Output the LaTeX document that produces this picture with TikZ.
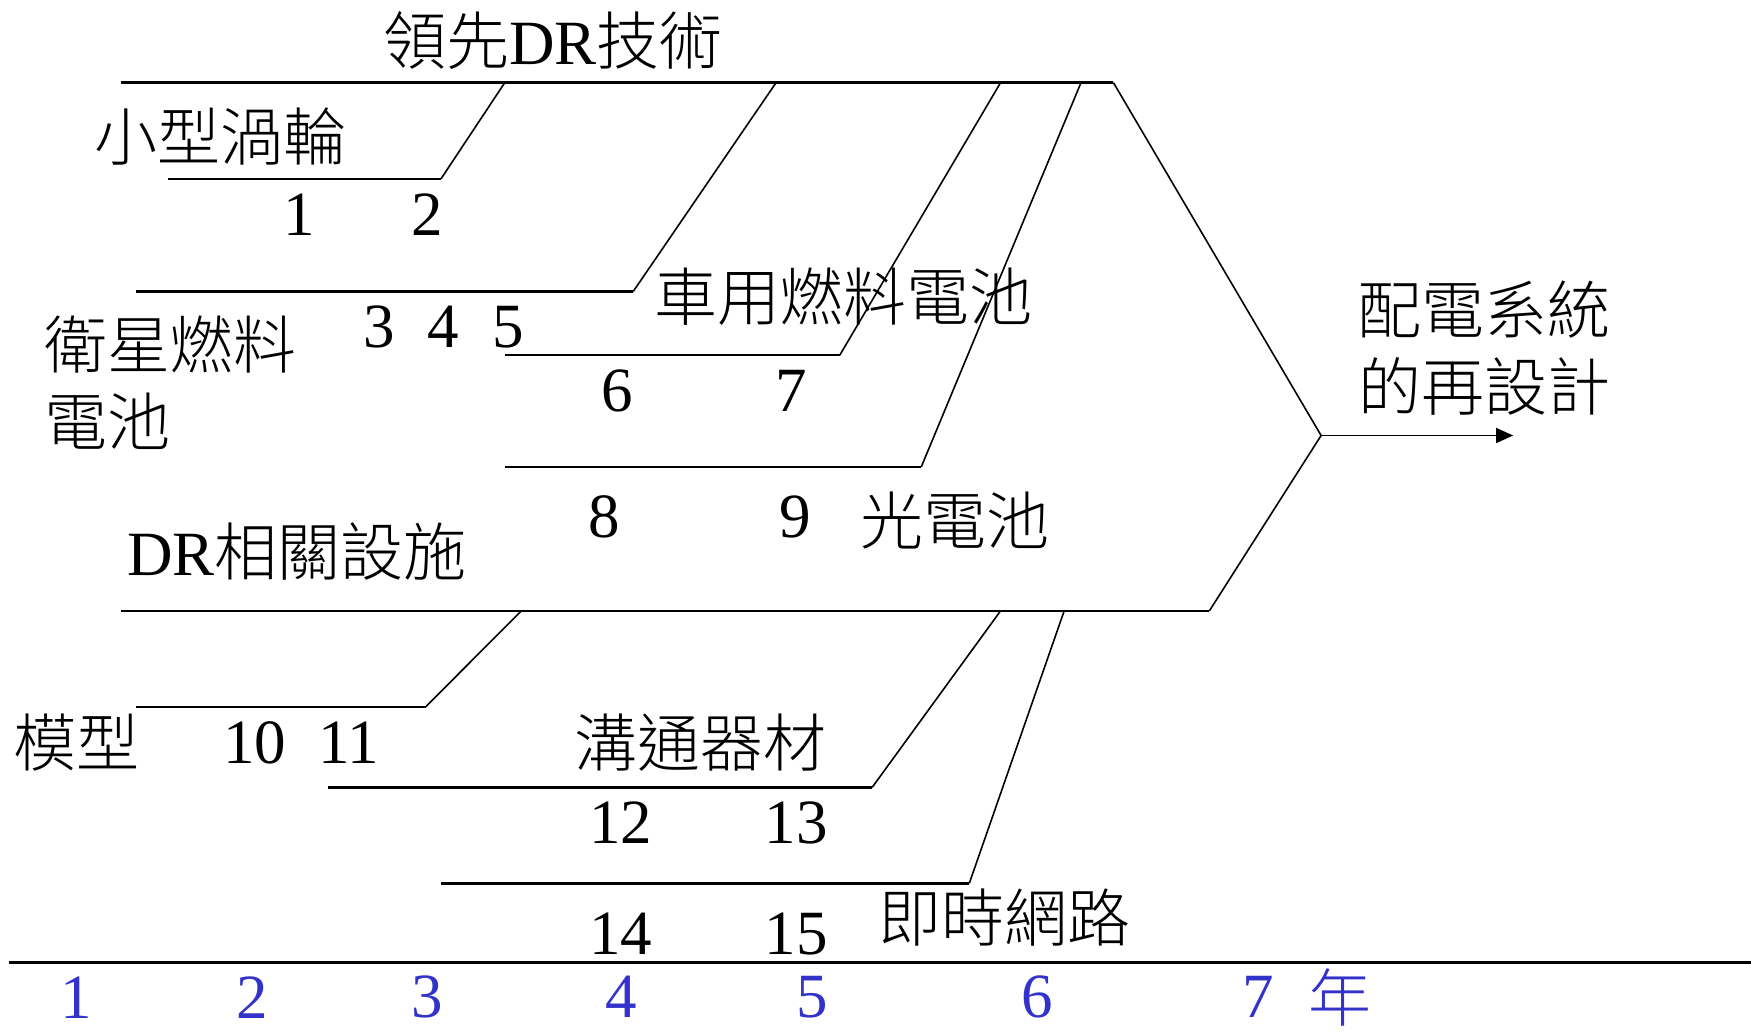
\documentclass[tikz,border=0pt]{standalone}
\usepackage{fontspec}
\setmainfont{Liberation Serif}
\newfontfamily\cjk{Noto Sans CJK TC Light}
\usetikzlibrary{arrows.meta}
\definecolor{yrblue}{RGB}{51,51,204}
\newcommand\lblfont{\fontsize{63}{77}\selectfont}
\begin{document}
\begin{tikzpicture}[x=1pt,y=-1pt,
  spine/.style={line width=2.4pt},
  branch/.style={line width=1.6pt},
  lbl/.style={font=\lblfont, inner sep=0pt, align=left},
  num/.style={font=\lblfont, inner sep=0pt},
  yr/.style={font=\lblfont, inner sep=0pt, text=yrblue}]
\useasboundingbox (0,0) rectangle (1751,1031);
% spine points
\coordinate (ts) at (120.6,82.6);
\coordinate (te) at (1113.4,82.6);
\coordinate (head) at (1321.1,435.5);
\coordinate (bs) at (120.6,610.8);
\coordinate (be) at (1209.4,610.8);
\coordinate (aend) at (1513.1,435.5);
% branch points
\coordinate (b1a) at (504.8,82.6);  \coordinate (b1b) at (441.1,178.7); \coordinate (b1c) at (167.5,178.7);
\coordinate (b2a) at (776.1,82.6);  \coordinate (b2b) at (633.2,291.5); \coordinate (b2c) at (136.2,291.5);
\coordinate (b3a) at (1000.6,82.6); \coordinate (b3b) at (839.8,355.1); \coordinate (b3c) at (504.8,355.1);
\coordinate (b4a) at (1081,82.6);   \coordinate (b4b) at (921.3,466.8); \coordinate (b4c) at (504.8,466.8);
\coordinate (b5a) at (521.5,610.8); \coordinate (b5b) at (425.5,706.9); \coordinate (b5c) at (136.2,706.9);
\coordinate (b6a) at (1000.6,610.8);\coordinate (b6b) at (872.2,787.3); \coordinate (b6c) at (328.3,787.3);
\coordinate (b7a) at (1064.2,610.8);\coordinate (b7b) at (969.3,883.3); \coordinate (b7c) at (441.1,883.3);
\coordinate (tl0) at (8.9,962.6);
\coordinate (tl1) at (1751,962.6);
% spines
\draw[spine] (ts) -- (te);
\draw[branch] (te) -- (head);
\draw[branch] (head) -- (be);
\draw[spine] (be) -- (bs);
\draw[branch,-{Triangle[length=17pt,width=15pt]}] (head) -- (aend);
% branches
\draw[branch] (b1a) -- (b1b);
\draw[spine] (b1b) -- (b1c);
\draw[branch] (b2a) -- (b2b);
\draw[spine] (b2b) -- (b2c);
\draw[branch] (b3a) -- (b3b);
\draw[spine] (b3b) -- (b3c);
\draw[branch] (b4a) -- (b4b);
\draw[spine] (b4b) -- (b4c);
\draw[branch] (b5a) -- (b5b);
\draw[spine] (b5b) -- (b5c);
\draw[branch] (b6a) -- (b6b);
\draw[spine] (b6b) -- (b6c);
\draw[branch] (b7a) -- (b7b);
\draw[spine] (b7b) -- (b7c);
\draw[line width=3pt] (tl0) -- (tl1);
% labels
\node[lbl] (lead) at (552.8,40.2) {{\cjk 領先}DR{\cjk 技術}};
\node[lbl] (turb) at (220.6,136.2) {\cjk 小型渦輪};
\node[lbl] (sat) at (170.7,382.5) {\cjk 衛星燃料\\\cjk 電池};
\node[lbl] (car) at (843.1,297) {\cjk 車用燃料電池};
\node[lbl] (pv) at (954.8,520.4) {\cjk 光電池};
\node[lbl] (drf) at (297,551.7) {DR{\cjk 相關設施}};
\node[lbl] (model) at (76,742.6) {\cjk 模型};
\node[lbl] (comm) at (700.7,742.6) {\cjk 溝通器材};
\node[lbl] (rt) at (1004.5,918) {\cjk 即時網路};
\node[lbl] (res) at (1484,347.8) {\cjk 配電系統\\\cjk 的再設計};
% numbers
\node[num] (n1) at (299.3,214.4) {1};
\node[num] (n2) at (427.7,214.4) {2};
\node[num] (n3) at (379.7,327.2) {3};
\node[num] (n4) at (443.3,327.2) {4};
\node[num] (n5) at (508.1,327.2) {5};
\node[num] (n6) at (617.5,390.9) {6};
\node[num] (n7) at (791.7,390.9) {7};
\node[num] (n8) at (604.1,517) {8};
\node[num] (n9) at (795.1,517) {9};
\node[num] (n10) at (254.6,742.6) {10};
\node[num] (n11) at (348.4,742.6) {11};
\node[num] (n12) at (620.9,823) {12};
\node[num] (n13) at (796.2,823) {13};
\node[num] (n14) at (620.9,933.6) {14};
\node[num] (n15) at (796.2,933.6) {15};
% timeline
\node[yr] (y1) at (75.9,997.2) {1};
\node[yr] (y2) at (252.4,997.2) {2};
\node[yr] (y3) at (427.7,997.2) {3};
\node[yr] (y4) at (620.9,997.2) {4};
\node[yr] (y5) at (811.8,997.2) {5};
\node[yr] (y6) at (1037.4,997.2) {6};
\node[yr] (y7) at (1258.5,997.2) {7};
\node[yr] (ynian) at (1340,997.2) {\cjk 年};
\end{tikzpicture}
\end{document}
